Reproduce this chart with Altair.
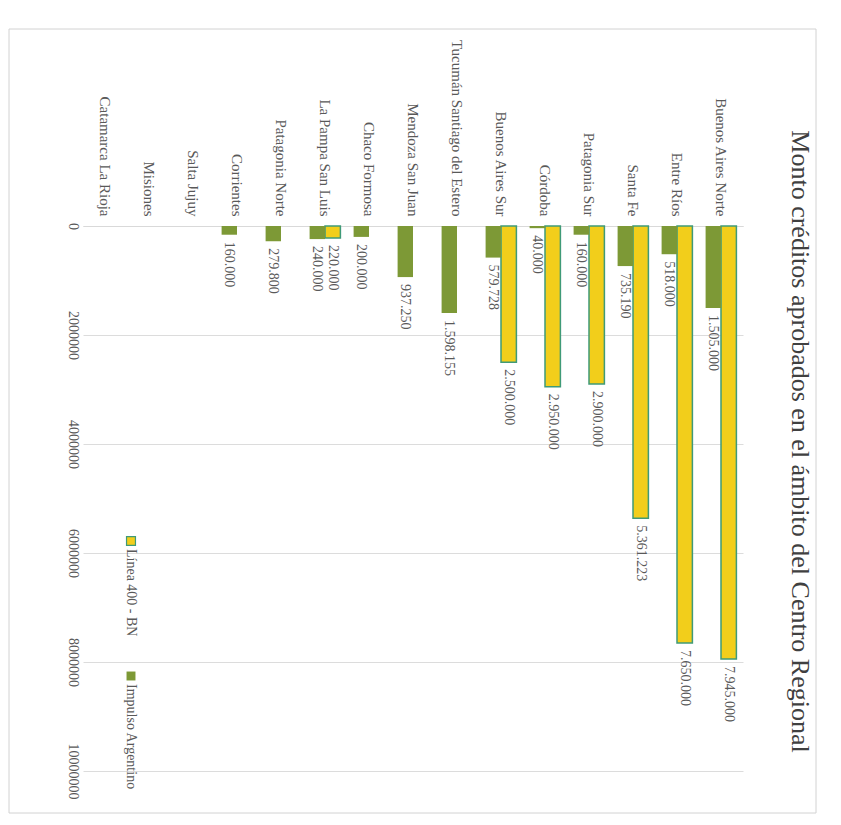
import altair as alt
import pandas as pd

# ---- data ----
categories = ["Buenos Aires Norte", "Entre Ríos", "Santa Fe", "Patagonia Sur", "Córdoba",
              "Buenos Aires Sur", "Tucumán Santiago del Estero", "Mendoza San Juan",
              "Chaco Formosa", "La Pampa San Luis", "Patagonia Norte", "Corrientes",
              "Salta Jujuy", "Misiones", "Catamarca La Rioja"]
linea_400 = [7945000, 7650000, 5361223, 2900000, 2950000, 2500000, None, None, None,
             220000, None, None, None, None, None]
impulso = [1505000, 518000, 735190, 160000, 40000, 579728, 1598155, 937250, 200000,
           240000, 279800, 160000, None, None, None]
series = ["Línea 400 - BN", "Impulso Argentino"]
series_colors = ["#F2CE1B", "#7D9936"]
series_strokes = ["#3f9a78", "transparent"]
value_ticks = [0, 2000000, 4000000, 6000000, 8000000, 10000000]
title_text = "Monto créditos aprobados en el ámbito del Centro Regional"

FONT = "Liberation Serif"
GRAY = "#595959"

rows = []
for cat, a, b in zip(categories, linea_400, impulso):
    for s, v in zip(series, [a, b]):
        if v is not None:
            rows.append({"region": cat, "serie": s, "monto": v,
                         "etiqueta": f"{v:,}".replace(",", ".")})
df = pd.DataFrame(rows)

cat_order = list(reversed(categories))

x_enc = alt.X("region:N", sort=cat_order,
              scale=alt.Scale(domain=cat_order, paddingInner=0.3, paddingOuter=0.15),
              axis=alt.Axis(orient="top", title=None, labelAngle=90, labelAlign="right",
                            labelBaseline="middle", labelPadding=10, ticks=False,
                            domainColor="#d9d9d9", labelFont=FONT, labelFontSize=15,
                            labelColor=GRAY, labelLimit=400, grid=False))
xoff_enc = alt.XOffset("serie:N", sort=["Impulso Argentino", "Línea 400 - BN"],
                       scale=alt.Scale(domain=["Impulso Argentino", "Línea 400 - BN"],
                                       paddingInner=0, paddingOuter=0))
y_enc = alt.Y("monto:Q",
              scale=alt.Scale(domain=[0, 10000000], reverse=True, nice=False),
              axis=alt.Axis(orient="left", title=None, values=value_ticks, format="d",
                            labelAngle=90, labelAlign="center", labelBaseline="top",
                            labelPadding=4, ticks=False, domain=False,
                            gridColor="#dcdcdc", labelFont=FONT, labelFontSize=14,
                            labelColor=GRAY))

bars = alt.Chart(df).mark_bar(strokeWidth=1.5).encode(
    x=x_enc, xOffset=xoff_enc, y=y_enc,
    color=alt.Color("serie:N", scale=alt.Scale(domain=series, range=series_colors), legend=None),
    stroke=alt.Stroke("serie:N", scale=alt.Scale(domain=series, range=series_strokes), legend=None),
)

labels = alt.Chart(df).mark_text(angle=90, align="left", baseline="middle", dx=7,
                                 font=FONT, fontSize=14, color=GRAY).encode(
    x=x_enc, xOffset=xoff_enc, y=y_enc, text="etiqueta:N")

# manual (rotated) legend
legend_layers = []
leg_pos = [(48, 315), (48, 450)]
for s, c, st, (lx, ly) in zip(series, series_colors, series_strokes, leg_pos):
    ldf = pd.DataFrame({"serie": [s]})
    sq = alt.Chart(ldf).mark_square(size=80, filled=True, color=c, stroke=st,
                                    strokeWidth=1.2, opacity=1).encode(
        x=alt.value(lx), y=alt.value(ly))
    tx = alt.Chart(ldf).mark_text(angle=90, align="left", baseline="middle",
                                  font=FONT, fontSize=14, color=GRAY).encode(
        x=alt.value(lx), y=alt.value(ly + 8), text="serie:N")
    legend_layers += [sq, tx]

# faint outer chart-area border (as on the scanned page)
frame = alt.Chart(pd.DataFrame({"k": [0]})).mark_rect(
    fill="transparent", stroke="#d2d2d2", strokeWidth=1).encode(
    x=alt.value(-74), x2=alt.value(733), y=alt.value(-197), y2=alt.value(587))

chart = alt.layer(frame, bars, labels, *legend_layers).properties(
    width=660, height=545,
    padding={"left": 0, "top": 20, "right": 0, "bottom": 0},
    title=alt.TitleParams(title_text, orient="right", anchor="middle", frame="group",
                          font=FONT, fontSize=26, fontWeight="normal", color="#404040",
                          offset=-30, dx=-57),
).configure_view(stroke=None)

chart.save("out.html", embed_options={"renderer": "svg", "actions": False})
